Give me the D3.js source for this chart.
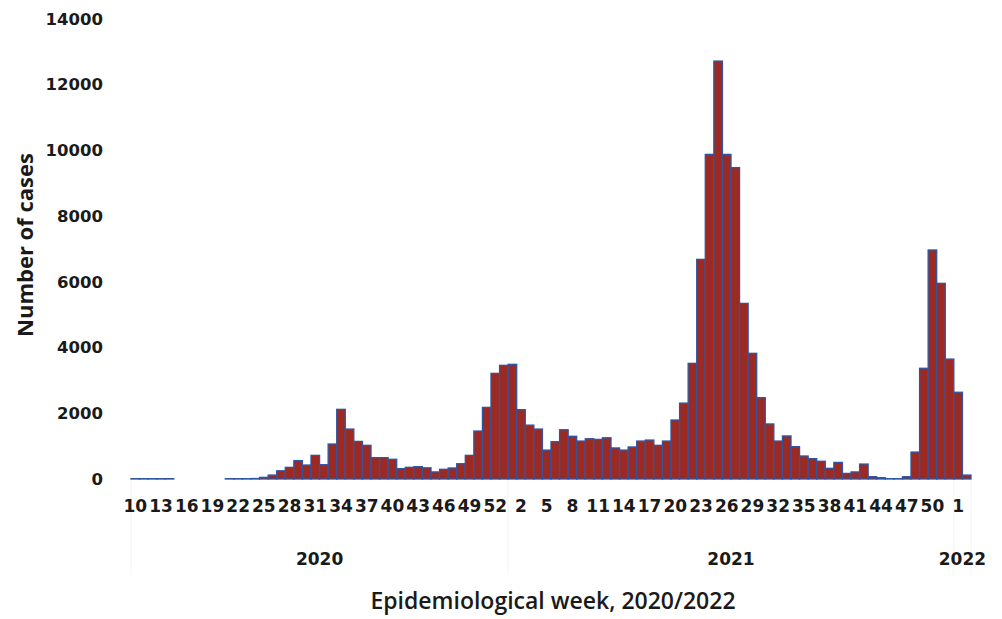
<!DOCTYPE html>
<html>
<head>
<meta charset="utf-8">
<script src="https://cdn.jsdelivr.net/npm/d3@7"></script>
<style>
  html, body { margin: 0; padding: 0; background: #fff; }
  svg { display: block; }
  text { fill: #1a1a1a; }
</style>
</head>
<body>
<svg id="chart" width="1002" height="619"></svg>
<script>
// ---- Data ----
const weeks2020 = [10,11,12,13,14,15,16,17,18,19,20,21,22,23,24,25,26,27,28,29,30,31,32,33,34,35,36,37,38,39,40,41,42,43,44,45,46,47,48,49,50,51,52,53];
const cases2020 = [10,10,10,10,10,0,0,0,0,0,0,10,10,10,15,50,120,250,355,560,425,720,435,1065,2120,1520,1145,1025,650,650,600,315,355,375,340,215,295,335,465,720,1460,2180,3215,3460];
const weeks2021 = [1,2,3,4,5,6,7,8,9,10,11,12,13,14,15,16,17,18,19,20,21,22,23,24,25,26,27,28,29,30,31,32,33,34,35,36,37,38,39,40,41,42,43,44,45,46,47,48,49,50,51,52];
const cases2021 = [3490,2110,1640,1520,880,1135,1500,1300,1155,1225,1205,1255,945,880,975,1155,1185,1025,1155,1795,2310,3520,6685,9880,12720,9880,9475,5345,3825,2475,1675,1155,1310,985,700,620,540,325,505,170,215,455,70,40,10,10,70,820,3370,6970,5955,3650];
const weeks2022 = [1,2];
const cases2022 = [2640,120];
const years = ["2020","2021","2022"];
const yTicks = [0,2000,4000,6000,8000,10000,12000,14000];

const groups = [
  {year: years[0], weeks: weeks2020, cases: cases2020},
  {year: years[1], weeks: weeks2021, cases: cases2021},
  {year: years[2], weeks: weeks2022, cases: cases2022}
];
const data = [];
groups.forEach(g => g.weeks.forEach((w, i) => data.push({year: g.year, week: w, value: g.cases[i], key: g.year + "-" + w})));

// ---- Layout ----
const svg = d3.select("#chart");
const x = d3.scaleBand().domain(data.map(d => d.key)).range([131, 971]).padding(0);
const y = d3.scaleLinear().domain([0, 14000]).range([479, 19]);
const numFont = "'DejaVu Sans', sans-serif";
const txtFont = "'Open Sans', 'DejaVu Sans', sans-serif";

// group separators (very faint)
const bounds = [];
let idx = 0;
groups.forEach(g => { bounds.push(idx); idx += g.weeks.length; });
bounds.push(idx);
svg.append("g").selectAll("line").data(bounds).join("line")
  .attr("x1", i => i < data.length ? x(data[i].key) : x.range()[1])
  .attr("x2", i => i < data.length ? x(data[i].key) : x.range()[1])
  .attr("y1", y(0)).attr("y2", 575)
  .attr("stroke", "#f4f4f4").attr("stroke-width", 1);

// y axis
const yAxis = d3.axisLeft(y).tickValues(yTicks).tickSize(0).tickPadding(0).tickFormat(d3.format("d"));
const yg = svg.append("g").attr("transform", "translate(103,0)").call(yAxis);
yg.select(".domain").remove();
yg.selectAll("text").style("font-size", "16.5px").style("font-weight", 700)
  .style("font-family", numFont).style("fill", "#1a1a1a");

// bars
svg.append("g").selectAll("rect").data(data.filter(d => d.value > 0)).join("rect")
  .attr("x", d => x(d.key))
  .attr("width", x.bandwidth())
  .attr("y", d => y(d.value))
  .attr("height", d => y(0) - y(d.value))
  .attr("fill", "#9c2a22")
  .attr("stroke", "#2f55a4")
  .attr("stroke-width", 1.3);

// x axis week labels
const tickKeys = data.filter((d, i) => i % 3 === 0).map(d => d.key);
const xAxis = d3.axisBottom(x).tickValues(tickKeys).tickSize(0).tickPadding(0)
  .tickFormat(k => k.split("-")[1]);
const xg = svg.append("g").attr("transform", "translate(0,498)").call(xAxis);
xg.select(".domain").remove();
xg.selectAll("text").style("font-size", "17px").style("font-weight", 700)
  .style("font-family", numFont).style("fill", "#1a1a1a")
  .attr("dy", "0.8em");

// year labels
let start = 0;
groups.forEach(g => {
  const first = data[start].key, last = data[start + g.weeks.length - 1].key;
  const cx = (x(first) + x(last) + x.bandwidth()) / 2;
  svg.append("text").attr("x", cx).attr("y", 565).attr("text-anchor", "middle")
    .style("font-family", numFont)
    .style("font-size", "17px").style("font-weight", 700).text(g.year);
  start += g.weeks.length;
});

// axis titles
svg.append("text").attr("x", 553).attr("y", 609).attr("text-anchor", "middle")
  .style("font-family", txtFont)
  .style("font-size", "23px").style("font-weight", 600).text("Epidemiological week, 2020/2022");
svg.append("text").attr("transform", "translate(33,245) rotate(-90)").attr("text-anchor", "middle")
  .style("font-family", txtFont)
  .style("font-size", "22px").style("font-weight", 700).text("Number of cases");
</script>
</body>
</html>
